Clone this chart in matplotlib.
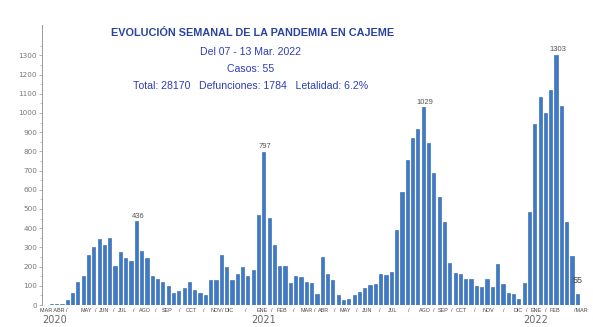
import matplotlib
matplotlib.use("Agg")
import matplotlib.pyplot as plt
import matplotlib.transforms as mtransforms
import numpy as np

# --- datos (casos semanales) ---
weekly_cases = [
    2, 3, 4, 5,
    25, 60, 120, 150, 260, 300, 345, 315, 350, 205,
    275, 245, 230, 436, 280, 245, 150, 135, 120, 100,
    62, 72, 86, 118, 77, 63, 52, 128, 130, 262,
    196, 130, 163, 196, 153, 180, 469, 797, 455, 314,
    203, 203, 116, 153, 148, 120, 116, 59, 248, 160,
    132, 50, 25, 32, 53, 69, 87, 104, 108, 160,
    156, 174, 391, 590, 755, 868, 915, 1029, 842, 689,
    564, 434, 220, 168, 163, 135, 133, 97, 95, 134,
    92, 213, 108, 61, 57, 30, 113, 486, 943, 1082,
    998, 1120, 1303, 1036, 434, 257, 55,
]
labeled_values = [436, 797, 1029, 1303]

month_labels = ["MAR ABR /", "MAY", "JUN", "JUL", "AGO", "SEP", "OCT", "NOV", "DIC",
                "ENE", "FEB", "MAR", "ABR", "MAY", "JUN", "JUL", "AGO", "SEP",
                "OCT", "NOV", "DIC", "ENE", "FEB", "/MAR"]
month_pos = [1.4, 7.6, 11.0, 14.5, 18.6, 22.9, 27.3, 32.0, 34.5,
             40.6, 44.3, 49.0, 52.3, 56.4, 60.5, 65.3, 71.3, 74.7,
             78.1, 83.3, 88.9, 92.2, 95.8, 100.6]
year_labels = ["2020", "2021", "2022"]
year_pos = [1.6, 41.0, 92.2]

title = "EVOLUCIÓN SEMANAL DE LA PANDEMIA EN CAJEME"
subtitle_lines = ["Del 07 - 13 Mar. 2022",
                  "Casos: 55",
                  "Total: 28170   Defunciones: 1784   Letalidad: 6.2%"]

fam = ["Liberation Sans", "DejaVu Sans"]

# --- figura ---
fig = plt.figure(figsize=(5.93, 3.27), dpi=100)
fig.patch.set_facecolor("white")
ax = fig.add_axes([42 / 593, 1 - 305 / 327, (585 - 42) / 593, (305 - 25) / 327])

x = np.arange(len(weekly_cases))
ax.bar(x, weekly_cases, width=0.6, color="#3f7ac6", edgecolor="#2b5fa9", linewidth=0.4)

ax.set_xlim(-0.75, 101.45)
ax.set_ylim(0, 1458)

ax.set_yticks(range(0, 1400, 100))
ax.set_yticks(range(50, 1400, 100), minor=True)
ax.tick_params(axis="y", which="major", labelsize=5.2, labelcolor="#777777",
               color="#999999", length=2.5, width=0.5, pad=1)
ax.tick_params(axis="y", which="minor", color="#aaaaaa", length=1.5, width=0.5)
ax.set_xticks([])
for s in ["top", "right", "bottom"]:
    ax.spines[s].set_visible(False)
ax.spines["left"].set_color("#999999")
ax.spines["left"].set_linewidth(0.7)

# etiquetas de meses y anios
trans = mtransforms.blended_transform_factory(ax.transData, ax.transAxes)
for lbl, p in zip(month_labels, month_pos):
    ax.text(p, -0.012, lbl, transform=trans, ha="center", va="top",
            fontsize=3.9, color="#444444", family=fam)
for a, b in zip(month_pos[1:-2], month_pos[2:-1]):
    ax.text((a + b) / 2, -0.012, "/", transform=trans, ha="center", va="top",
            fontsize=3.9, color="#444444", family=fam)
for lbl, p in zip(year_labels, year_pos):
    ax.text(p, -0.035, lbl, transform=trans, ha="center", va="top",
            fontsize=7, color="#666666")

# valores sobre las barras
for v in labeled_values:
    i = weekly_cases.index(v)
    ax.text(i + 0.3, v + 8, str(v), ha="center", va="bottom",
            fontsize=5.5, color="#555555", family=fam)
last = len(weekly_cases) - 1
ax.text(last + 0.1, weekly_cases[last] + 70, str(weekly_cases[last]), ha="center",
        va="center", fontsize=6.5, color="#444444", family=fam)

# titulo y resumen
fig.text(253 / 593, 1 - 33 / 327, title, ha="center", va="center",
         fontsize=7.8, fontweight="bold", color="#2a43a0", family=fam)
for k, line in enumerate(subtitle_lines):
    fig.text(251 / 593, 1 - (52 + 17 * k) / 327, line, ha="center", va="center",
             fontsize=7.6, color="#2d3db5", family=fam)

fig.savefig("out.png", dpi=100)
